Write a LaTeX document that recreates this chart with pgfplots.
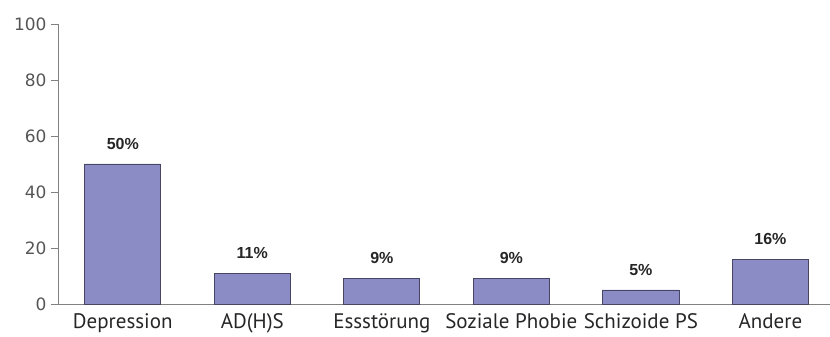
\documentclass[border=0pt]{standalone}
\usepackage{pgfplots}
\pgfplotsset{compat=1.18}
\usepackage{fontspec}
\setmainfont{PT Sans}
\newfontfamily\ylabfont{DejaVu Sans}
\newfontfamily\vallabfont{Liberation Sans}
\definecolor{barfill}{RGB}{139,139,197}
\definecolor{baredge}{RGB}{70,70,100}
\definecolor{axgray}{RGB}{128,128,128}
\definecolor{ticktext}{RGB}{85,85,85}
\begin{document}
\begin{tikzpicture}[x=1pt,y=1pt]
\useasboundingbox (-58,-33) rectangle (772,304);
\begin{axis}[
  at={(0,0)}, anchor=south west,
  scale only axis, width=772pt, height=280pt,
  /pgf/number format/assume math mode=true,
  xmin=-0.5, xmax=5.46, ymin=0, ymax=100,
  axis x line*=bottom, axis y line*=left,
  axis line style={axgray, line width=0.8pt, -},
  ytick={0,20,...,100},
  xtick={0,...,5},
  xticklabels={Depression, AD(H)S, Essstörung, Soziale Phobie, Schizoide PS, Andere},
  x tick style={draw=none},
  minor xtick={-0.5,0.5,1.5,2.5,3.5,4.5},
  minor x tick style={axgray, line width=0.8pt},
  y tick style={axgray, line width=0.8pt},
  tick align=outside, major tick length=7pt, minor tick length=6pt,
  yticklabel style={font=\ylabfont\fontsize{17}{18}\selectfont, text=ticktext, xshift=-1pt},
  xticklabel style={font=\fontsize{21}{22}\selectfont, text=black!85, yshift=1pt},
  ybar, bar width=0.587,
  nodes near coords={\pgfmathprintnumber{\pgfplotspointmeta}\%},
  every node near coord/.append style={font=\vallabfont\bfseries\fontsize{16}{17}\selectfont, text=black!85, yshift=11pt},
  clip=false,
]
\addplot[fill=barfill, draw=baredge, line width=0.8pt] coordinates {(0,50) (1,11) (2,9) (3,9) (4,5) (5,16)};
\end{axis}
\end{tikzpicture}
\end{document}
